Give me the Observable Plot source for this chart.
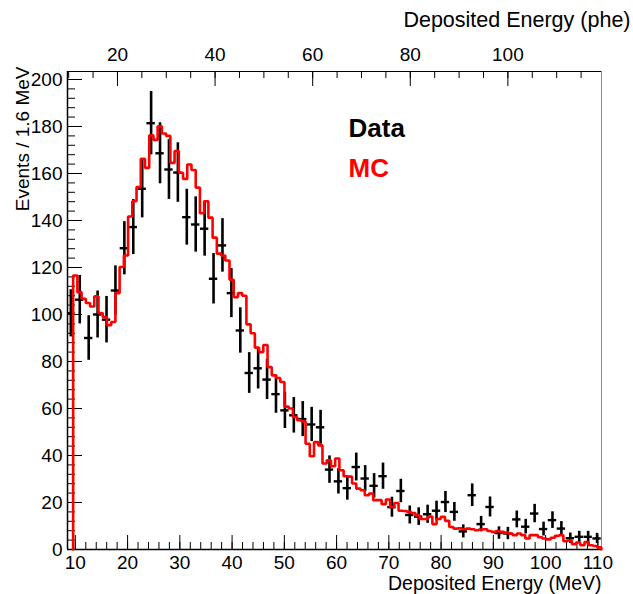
<!DOCTYPE html>
<html><head><meta charset="utf-8">
<script src="https://cdn.jsdelivr.net/npm/d3@7"></script>
<script src="https://cdn.jsdelivr.net/npm/@observablehq/plot@0.6"></script>
<style>body{margin:0;background:#fff}</style>
</head><body><div id="chart"></div>
<script>
// ---- Data: events per bin (black points, sqrt(N) errors)
const dataCounts = [100.5,106.3,90,100,97.8,110.2,128.2,137.2,153.5,181.4,
  168.6,161.7,160.4,141.4,138.3,136.5,115.2,129.4,109.1,93.2,
  75.1,77.1,72.3,66.1,59.2,57.1,55.5,53.2,52,34,
  29,26.1,35.1,30.2,27.1,31.2,18,24.9,14.7,14,
  15,16.5,20.2,16,7.7,23.1,10.8,18.1,7,6.8,
  12.8,9.7,15.3,8.7,12.5,8.9,4.8,5.4,5.4,4.7];
const dataFirstCenter = 9.14;   // MeV
const dataBinWidth = 1.707;     // MeV
const dataHalfWidth = 0.8;      // MeV, horizontal error bar

// ---- MC histogram (red)
const mcCounts = [116.6,109.5,106.7,104.9,103.4,107.7,100.6,98.9,95.4,96.8,
  109.1,120.2,125.1,141.7,148.2,154.2,166.2,162.4,176.2,174.3,
  180.1,177,176,164.5,169.5,160.3,157.7,163.8,161.5,154,
  143.1,148.2,141.2,132.7,125.9,125.1,123,114.8,107.4,109.1,
  108,95.8,92,85.9,84,87,77.6,74.1,73,71.3,
  60.8,60,56.4,55,54.5,45,39.7,45.7,44.3,36.6,
  38,35.4,38.7,33.7,31.2,31,28.1,25.9,25.2,23.1,
  23.8,21,21,19.3,21.3,18.1,19.8,16.5,16.4,16,
  15.5,14.5,13,13,14,10.8,13,13.9,12.2,9.6,
  8.9,9,8.6,8.9,8.6,8.2,8.5,8.6,7.9,7.5,
  7.8,7.5,7.2,6.8,6.1,6.8,6.1,4.7,6.1,6.1,
  5.2,4.7,4.3,5,5.8,6.1,3.5,3.8,2.3,3,
  1.8,3.2,1.8,1.5,0.9];
const mcFirstEdge = 9.58;   // MeV
const mcBinWidth = 0.8088;  // MeV

// ---- Axes
const xDomain = [8.5, 110.7];
const yDomain = [0, 203.4];
const xMajorTicks = [10,20,30,40,50,60,70,80,90,100,110];
const xMinorTicks = [10,12,14,16,18,20,22,24,26,28,30,32,34,36,38,40,42,44,46,48,50,52,54,56,58,60,62,64,66,68,70,72,74,76,78,80,82,84,86,88,90,92,94,96,98,100,102,104,106,108,110];
const yMajorTicks = [0,20,40,60,80,100,120,140,160,180,200];
const yMinorTicks = [0,4,8,12,16,20,24,28,32,36,40,44,48,52,56,60,64,68,72,76,80,84,88,92,96,100,104,108,112,116,120,124,128,132,136,140,144,148,152,156,160,164,168,172,176,180,184,188,192,196,200];
const pheMajorTicks = [20,40,60,80,100];
const pheMinorTicks = [10,15,20,25,30,35,40,45,50,55,60,65,70,75,80,85,90,95,100,105,110,115];
const pheToMeVScale = 0.934, pheToMeVOffset = -0.616;
const pheToMeV = p => pheToMeVOffset + pheToMeVScale * p;
const meVToPhe = m => (m - pheToMeVOffset) / pheToMeVScale;

const W = 633, H = 594;
const mL = 67, mR = 32, mT = 71, mB = 45;
const fw = W - mL - mR, fh = H - mT - mB;
const font = "Liberation Sans, Arial, Helvetica, sans-serif";

const points = dataCounts.map((v, i) => {
  const c = dataFirstCenter + i * dataBinWidth;
  const e = Math.sqrt(v);
  return {c, v, lo: v - e, hi: v + e, x1: Math.max(c - dataHalfWidth, xDomain[0]), x2: c + dataHalfWidth};
});
const mcEnd = mcFirstEdge + mcCounts.length * mcBinWidth;
const mcLine = [{x: mcFirstEdge, y: 0}]
  .concat(mcCounts.map((v, k) => ({x: mcFirstEdge + k * mcBinWidth, y: v})))
  .concat([{x: mcEnd, y: mcCounts[mcCounts.length - 1]}, {x: mcEnd, y: 0}]);

const chart = Plot.plot({
  width: W, height: H,
  marginLeft: mL, marginRight: mR, marginTop: mT, marginBottom: mB,
  style: {fontFamily: font, background: "white", color: "black"},
  x: {domain: xDomain, axis: null},
  y: {domain: yDomain, axis: null},
  marks: [
    // ticks
    Plot.ruleX(xMajorTicks, {x: d => d, insetTop: fh - 14, stroke: "black"}),
    Plot.ruleX(xMinorTicks, {x: d => d, insetTop: fh - 7, stroke: "black"}),
    Plot.ruleY(yMajorTicks, {y: d => d, insetRight: fw - 15, stroke: "black"}),
    Plot.ruleY(yMinorTicks, {y: d => d, insetRight: fw - 8, stroke: "black"}),
    Plot.ruleX(pheMajorTicks.map(pheToMeV), {x: d => d, insetBottom: fh - 15, stroke: "black"}),
    Plot.ruleX(pheMinorTicks.map(pheToMeV), {x: d => d, insetBottom: fh - 7, stroke: "black"}),
    // frame
    Plot.ruleX([xDomain[1]], {stroke: "#888"}),
    Plot.ruleY([yDomain[1]], {stroke: "black"}),
    Plot.ruleX([xDomain[0]], {stroke: "black", strokeWidth: 1.5}),
    Plot.ruleY([yDomain[0]], {stroke: "black", strokeWidth: 1.5}),
    // data points
    Plot.ruleX(points, {x: "c", y1: "lo", y2: "hi", stroke: "black", strokeWidth: 2.6}),
    Plot.ruleY(points, {y: "v", x1: "x1", x2: "x2", stroke: "black", strokeWidth: 2.4}),
    // MC
    Plot.line(mcLine, {x: "x", y: "y", curve: "step-after", stroke: "#ff0000", strokeWidth: 2.6, strokeLinejoin: "miter"}),
    // axis labels
    Plot.axisX(xMajorTicks, {anchor: "bottom", tickSize: 0, tickPadding: 6, fontSize: 19, label: null}),
    Plot.axisY(yMajorTicks, {anchor: "left", tickSize: 0, tickPadding: 5, fontSize: 19, label: null}),
    Plot.axisX(pheMajorTicks.map(pheToMeV), {anchor: "top", tickSize: 0, tickPadding: 11, fontSize: 19, label: null,
      tickFormat: d => String(Math.round(meVToPhe(d)))}),
    // titles
    Plot.text(["Deposited Energy (MeV)"], {text: d => d, frameAnchor: "bottom-right", lineAnchor: "middle", dy: 34, textAnchor: "end", fontSize: 19.5}),
    Plot.text(["Deposited Energy (phe)"], {text: d => d, frameAnchor: "top-right", lineAnchor: "middle", dx: 29, dy: -51, textAnchor: "end", fontSize: 21.5}),
    Plot.text(["Events / 1.6 MeV"], {text: d => d, frameAnchor: "top-left", lineAnchor: "middle", dx: -45, dy: -5, rotate: -90, textAnchor: "end", fontSize: 19}),
    // legend
    Plot.text(["Data"], {text: d => d, frameAnchor: "top-left", lineAnchor: "middle", dx: 281, dy: 57, textAnchor: "start", fontSize: 26, fontWeight: "bold", fill: "black"}),
    Plot.text(["MC"], {text: d => d, frameAnchor: "top-left", lineAnchor: "middle", dx: 281, dy: 97, textAnchor: "start", fontSize: 26, fontWeight: "bold", fill: "#ff0000"})
  ]
});
document.getElementById("chart").appendChild(chart);
</script>
</body></html>
